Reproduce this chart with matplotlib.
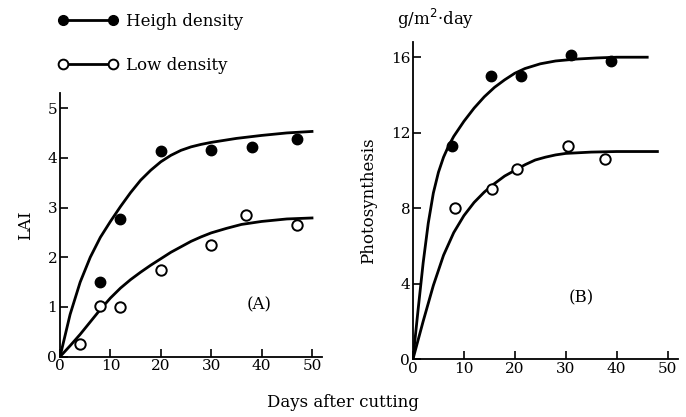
import matplotlib
matplotlib.use("Agg")
import matplotlib.pyplot as plt
from matplotlib.lines import Line2D

plt.rcParams["font.family"] = ["DejaVu Serif"]

# (A) LAI, observed points
lai_high_days = [8, 12, 20, 30, 38, 47]
lai_high = [1.50, 2.77, 4.13, 4.15, 4.21, 4.37]
lai_low_days = [4, 8, 12, 20, 30, 37, 47]
lai_low = [0.25, 1.02, 1.00, 1.75, 2.25, 2.84, 2.65]

# (A) fitted curves
lai_fit_days = [0, 2, 4, 6, 8, 10, 12, 14, 16, 18, 20, 22, 24, 26, 28, 30, 35, 40, 45, 50]
lai_fit_high = [0, 0.85, 1.5, 2.0, 2.4, 2.72, 3.02, 3.3, 3.55, 3.75, 3.92,
                4.05, 4.15, 4.22, 4.27, 4.31, 4.39, 4.45, 4.5, 4.53]
lai_fit_low_days = [0, 2, 4, 6, 8, 10, 12, 14, 16, 18, 20, 22, 24, 26, 28, 30, 33, 36, 40, 45, 50]
lai_fit_low = [0, 0.22, 0.45, 0.7, 0.95, 1.18, 1.38, 1.55, 1.7, 1.84, 1.97,
               2.1, 2.21, 2.32, 2.41, 2.49, 2.58, 2.66, 2.72, 2.77, 2.79]

# (B) photosynthesis, observed points
ps_high_days = [7.7, 15.4, 21.3, 31.1, 38.8]
ps_high = [11.3, 15.0, 15.0, 16.1, 15.8]
ps_low_days = [8.2, 15.6, 20.4, 30.4, 37.8]
ps_low = [8.0, 9.0, 10.05, 11.3, 10.6]

# (B) fitted curves
ps_fit_high_days = [0, 1, 2, 3, 4, 5, 6, 7, 8, 10, 12, 14, 16, 18, 20, 22, 25, 28, 32, 36, 40, 46]
ps_fit_high = [0, 2.6, 5.1, 7.2, 8.8, 9.9, 10.7, 11.3, 11.8, 12.6, 13.3, 13.9,
               14.4, 14.8, 15.15, 15.4, 15.65, 15.8, 15.9, 15.96, 16.0, 16.0]
ps_fit_low_days = [0, 2, 4, 6, 8, 10, 12, 14, 16, 18, 20, 22, 24, 26, 28, 30, 35, 40, 48]
ps_fit_low = [0, 2.0, 3.9, 5.5, 6.7, 7.6, 8.3, 8.85, 9.3, 9.7, 10.0, 10.3,
              10.55, 10.7, 10.82, 10.9, 10.97, 11.0, 11.0]

x_ticks = [0, 10, 20, 30, 40, 50]
lai_ticks = [0, 1, 2, 3, 4, 5]
ps_ticks = [0, 4, 8, 12, 16]


def style_axis(ax):
    for s in ("top", "right"):
        ax.spines[s].set_visible(False)
    for s in ("left", "bottom"):
        ax.spines[s].set_linewidth(1.3)
    ax.tick_params(direction="in", length=6, width=1.2, labelsize=11, pad=2)


def main():
    fig = plt.figure(figsize=(6.86, 4.17), dpi=100)

    axA = fig.add_axes([0.0875, 0.1446, 0.382, 0.632])
    axA.plot(lai_fit_days, lai_fit_high, color="black", lw=2)
    axA.plot(lai_fit_low_days, lai_fit_low, color="black", lw=2)
    axA.plot(lai_high_days, lai_high, "o", color="black", ms=7.5)
    axA.plot(lai_low_days, lai_low, "o", mfc="white", mec="black", mew=1.4, ms=7.5)
    axA.set_xlim(0, 52)
    axA.set_ylim(0, 5.3)
    axA.set_xticks(x_ticks)
    axA.set_yticks(lai_ticks)
    style_axis(axA)
    axA.set_ylabel("LAI", fontsize=12, labelpad=10)
    axA.text(37, 0.95, "(A)", fontsize=12)

    axB = fig.add_axes([0.602, 0.139, 0.386, 0.760])
    axB.plot(ps_fit_high_days, ps_fit_high, color="black", lw=2)
    axB.plot(ps_fit_low_days, ps_fit_low, color="black", lw=2)
    axB.plot(ps_high_days, ps_high, "o", color="black", ms=7.5)
    axB.plot(ps_low_days, ps_low, "o", mfc="white", mec="black", mew=1.4, ms=7.5)
    axB.set_xlim(0, 52)
    axB.set_ylim(0, 16.8)
    axB.set_xticks(x_ticks)
    axB.set_yticks(ps_ticks)
    style_axis(axB)
    axB.set_ylabel("Photosynthesis", fontsize=12, labelpad=10)
    axB.text(30.5, 3.0, "(B)", fontsize=12)
    fig.text(0.578, 0.955, "g/m$^2$·day", fontsize=12, va="center")

    fig.text(0.5, 0.025, "Days after cutting", fontsize=12, ha="center")

    handles = [
        Line2D([], [], color="black", lw=2, marker="o", ms=7, mfc="black", mec="black"),
        Line2D([], [], color="black", lw=2, marker="o", ms=7, mfc="white", mec="black", mew=1.4),
    ]
    fig.legend(handles, ["Heigh density", "Low density"], loc="upper left",
               bbox_to_anchor=(0.075, 0.985), frameon=False, numpoints=2,
               handlelength=3.6, handletextpad=0.5, labelspacing=1.6, fontsize=12,
               borderaxespad=0)

    fig.savefig("out.png", dpi=100)


if __name__ == "__main__":
    main()
